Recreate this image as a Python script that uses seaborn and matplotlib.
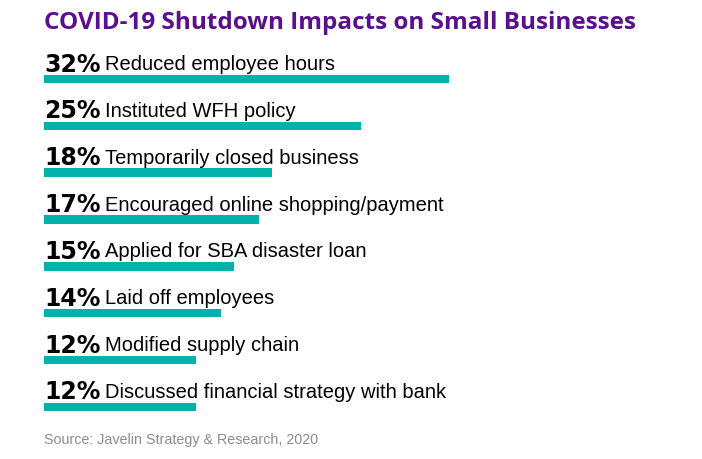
import matplotlib
matplotlib.use("Agg")
import matplotlib.pyplot as plt
import seaborn as sns
import pandas as pd

# chart data
labels = ["Reduced employee hours", "Instituted WFH policy", "Temporarily closed business",
          "Encouraged online shopping/payment", "Applied for SBA disaster loan",
          "Laid off employees", "Modified supply chain", "Discussed financial strategy with bank"]
values = [32, 25, 18, 17, 15, 14, 12, 12]

df = pd.DataFrame({"label": labels, "value": values})

fig = plt.figure(figsize=(7.02, 4.6), dpi=100)
ax = fig.add_axes([44 / 702, 1 - 436 / 460, 658 / 702, (436 - 37.8) / 460])

sns.barplot(data=df, x="value", y="label", orient="h", color="#00B2A9",
            width=0.18, saturation=1, ax=ax)
ax.set_xlim(0, 658 / 12.66)
ax.set_ylim(7.6, -0.9)
ax.axis("off")

for i, (lab, v) in enumerate(zip(labels, values)):
    ax.text(0, i - 0.33, f"{v}%", fontsize=17, fontweight="bold", family="DejaVu Sans",
            va="center", ha="left", color="black")
    ax.text(4.8, i - 0.33, lab, fontsize=14.5, family="Liberation Sans",
            va="center", ha="left", color="black")

fig.text(44 / 702, 1 - 23 / 460, "COVID-19 Shutdown Impacts on Small Businesses",
         fontsize=17.5, fontweight="bold", family="Open Sans", color="#5B0F8E",
         va="center", ha="left")
fig.text(44 / 702, 1 - 440 / 460, "Source: Javelin Strategy & Research, 2020",
         fontsize=10.3, family="Liberation Sans", color="#8C8C8C", va="center", ha="left")

fig.savefig("out.png", dpi=100)
